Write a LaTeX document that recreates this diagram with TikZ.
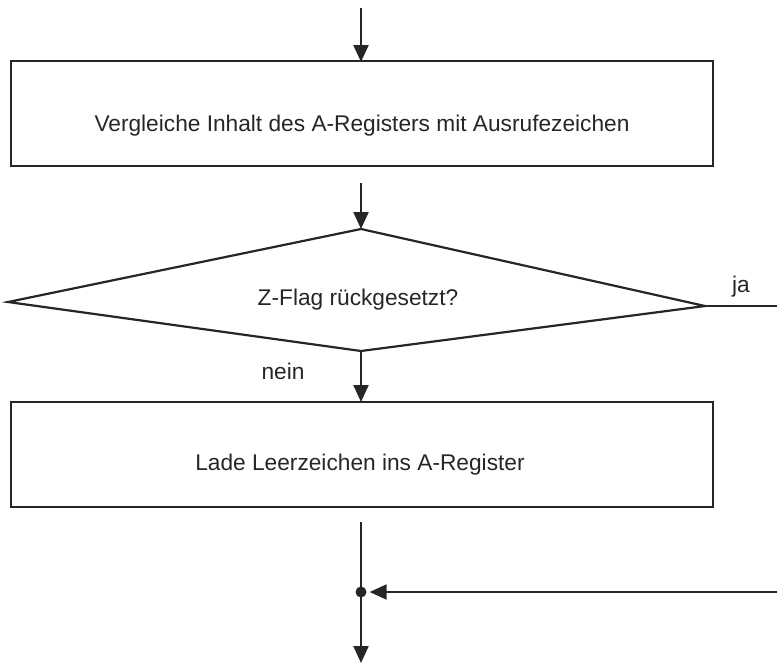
\documentclass[tikz,border=0pt]{standalone}
\usepackage{fontspec}
\setmainfont{Liberation Sans}
\usetikzlibrary{arrows.meta,calc}
\definecolor{ink}{HTML}{262626}
\begin{document}
\begin{tikzpicture}[x=1pt,y=-1pt,
  line/.style={draw=ink,line width=2.2pt},
  flow/.style={line,-{Triangle[width=15pt,length=17pt]}},
  label/.style={text=ink,font=\fontsize{22.7}{26}\selectfont,inner sep=0pt},
  junction/.style={circle,fill=ink,inner sep=0pt,minimum size=11pt}]
\useasboundingbox (0,0) rectangle (777,665);

% process boxes
\draw[line] (11,61) rectangle (713,166);
\node[label] (t1) at (362,126) {Vergleiche Inhalt des A-Registers mit Ausrufezeichen};
\draw[line] (11,402) rectangle (713,507);
\node[label] (t2) at (360,465) {Lade Leerzeichen ins A-Register};

% decision diamond
\coordinate (dtop) at (361,229);
\coordinate (dleft) at (8,302);
\coordinate (dright) at (705,306);
\coordinate (dbot) at (361,351);
\draw[line,line join=miter] (dtop) -- (dright) -- (dbot) -- (dleft) -- cycle;
\node[label] (q) at (358,300) {Z-Flag rückgesetzt?};
\node[label] (ja) at (741,287) {ja};
\node[label] (nein) at (283,371) {nein};

% connectors
\coordinate (in) at (361,8);
\coordinate (b1top) at (361,62);
\coordinate (b1out) at (361,183);
\coordinate (b2top) at (361,402);
\coordinate (b2out) at (361,522);
\coordinate (out) at (361,663);
\coordinate (jaend) at (777,306);
\coordinate (back) at (777,592);
\node[junction] (j) at (361,592) {};

\draw[flow] (in) -- (b1top);
\draw[flow] (b1out) -- (dtop);
\draw[flow] (dbot) -- (b2top);
\draw[line] (dright) -- (jaend);
\draw[line] (b2out) -- (j.center);
\draw[flow] (j.center) -- (out);
\draw[flow,shorten >=3pt] (back) -- (j);
\end{tikzpicture}
\end{document}
